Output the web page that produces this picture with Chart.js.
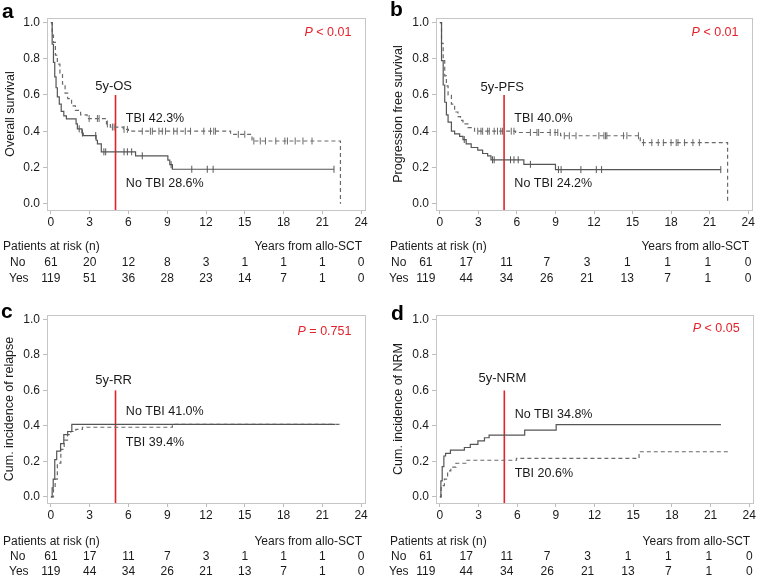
<!DOCTYPE html>
<html>
<head>
<meta charset="utf-8">
<script src="https://cdn.jsdelivr.net/npm/chart.js@4.4.1/dist/chart.umd.min.js"></script>
<style>
  body { margin: 0; background: #fff; width: 757px; height: 579px; position: relative; overflow: hidden; }
  canvas { position: absolute; }
</style>
</head>
<body>
<canvas id="pa" width="378" height="285" style="left:0;top:0"></canvas>
<canvas id="pb" width="379" height="285" style="left:378px;top:0"></canvas>
<canvas id="pc" width="378" height="294" style="left:0;top:285px"></canvas>
<canvas id="pd" width="379" height="294" style="left:378px;top:285px"></canvas>
<script>
// tick labels
const X_TICKS = [0, 3, 6, 9, 12, 15, 18, 21, 24];
const Y_TICKS = [0, 0.2, 0.4, 0.6, 0.8, 1.0];
const RISK_TIMES = [0, 3, 6, 9, 12, 15, 18, 21, 24];

// patients at risk
const OS_RISK_NO = [61, 20, 12, 8, 3, 1, 1, 1, 0];
const OS_RISK_YES = [119, 51, 36, 28, 23, 14, 7, 1, 0];
const PFS_RISK_NO = [61, 17, 11, 7, 3, 1, 1, 1, 0];
const PFS_RISK_YES = [119, 44, 34, 26, 21, 13, 7, 1, 0];
const RR_RISK_NO = [61, 17, 11, 7, 3, 1, 1, 1, 0];
const RR_RISK_YES = [119, 44, 34, 26, 21, 13, 7, 1, 0];
const NRM_RISK_NO = [61, 17, 11, 7, 3, 1, 1, 1, 0];
const NRM_RISK_YES = [119, 44, 34, 26, 21, 13, 7, 1, 0];

// step curves [years, value]
const OS_NO = [[0,1],[0.1,0.88],[0.2,0.78],[0.3,0.7],[0.4,0.64],[0.5,0.59],[0.65,0.55],[0.8,0.51],[1.0,0.485],[1.2,0.468],
  [1.95,0.44],[2.05,0.413],[2.4,0.39],[2.5,0.376],[3.5,0.35],[3.6,0.33],[3.9,0.286],[6.55,0.264],[9.05,0.24],[9.2,0.215],[9.4,0.19],[21.9,0.19]];
const OS_YES = [[0,1],[0.1,0.93],[0.2,0.89],[0.35,0.82],[0.5,0.77],[0.7,0.72],[0.9,0.66],[1.1,0.61],[1.3,0.58],[1.6,0.54],[1.9,0.515],
  [2.3,0.49],[2.8,0.47],[4.3,0.44],[4.6,0.423],[5.6,0.41],[6.0,0.40],[13.9,0.383],[15.56,0.346],[22.4,0.346],[22.4,0]];
const OS_NO_CENS = [2.19, 2.44, 3.47, 4.1, 4.24, 5.66, 5.92, 6.25, 7.07, 9.3, 10.9, 12.1, 12.55, 21.9];
const OS_YES_CENS = [2.96, 3.6, 3.73, 4.37, 4.76, 4.89, 5.66, 5.92, 7.07, 7.7, 7.85, 8.36, 8.62, 8.87, 9.5, 9.77, 10.4, 10.8,
  11.83, 12.35, 12.6, 12.73, 14.5, 15.0, 15.7, 16.2, 16.6, 17.4, 18.1, 18.3, 18.9, 19.5, 20.2];

const PFS_NO = [[0,1],[0.13,0.79],[0.26,0.655],[0.38,0.56],[0.51,0.49],[0.64,0.45],[0.9,0.40],[1.15,0.385],[1.54,0.372],[1.8,0.354],
  [2.05,0.33],[2.44,0.31],[2.95,0.296],[3.33,0.277],[3.72,0.264],[3.98,0.242],[6.54,0.217],[9.0,0.188],[21.87,0.188]];
const PFS_YES = [[0,1],[0.13,0.885],[0.26,0.79],[0.38,0.706],[0.51,0.65],[0.64,0.60],[0.9,0.55],[1.15,0.506],[1.41,0.48],[1.61,0.46],
  [1.8,0.44],[2.18,0.42],[2.7,0.40],[5.9,0.393],[9.4,0.375],[15.6,0.337],[22.4,0.337],[22.4,0]];
const PFS_NO_CENS = [1.9, 4.1, 4.23, 5.5, 5.77, 6.1, 7.05, 9.23, 9.44, 10.98, 12.18, 12.59, 21.87];
const PFS_YES_CENS = [2.95, 3.2, 3.33, 3.72, 3.85, 4.23, 4.49, 4.74, 4.87, 5.56, 5.77, 7.05, 7.56, 7.69, 8.59, 8.97, 9.18, 9.69,
  10.08, 10.6, 12.38, 12.77, 12.9, 13.0, 14.3, 14.56, 15.46, 15.85, 16.5, 17.0, 17.4, 18.0, 18.4, 18.54, 19.05, 19.7, 20.2];

const RR_NO = [[0,0],[0.1,0.05],[0.18,0.10],[0.3,0.21],[0.45,0.257],[0.75,0.30],[1.0,0.35],[1.3,0.368],[1.62,0.408],[22.0,0.408]];
const RR_YES = [[0,0],[0.2,0.05],[0.33,0.10],[0.5,0.19],[0.77,0.267],[1.03,0.32],[1.29,0.35],[1.54,0.368],[1.93,0.38],[2.44,0.392],
  [9.4,0.408],[22.4,0.408]];

const NRM_NO = [[0,0],[0.08,0.09],[0.18,0.17],[0.31,0.23],[0.44,0.245],[0.82,0.263],[1.9,0.278],[2.36,0.296],[2.95,0.315],
  [3.46,0.333],[3.82,0.348],[6.58,0.376],[9.02,0.407],[21.8,0.407]];
const NRM_YES = [[0,0],[0.1,0.063],[0.35,0.10],[0.6,0.146],[0.85,0.167],[1.25,0.189],[2.1,0.206],[5.94,0.217],[15.45,0.254],[22.5,0.254]];

const FONT = '"Liberation Sans", Arial, Helvetica, sans-serif';
const INK = '#1a1a1a';
const RED = '#e3222b';
const SOLID = '#555555';
const DASHED = '#6a6a6a';

const toXY = curve => curve.map(p => ({ x: p[0], y: p[1] }));

// value of a step curve at time t (for placing censor ticks on it)
function stepAt(curve, t) {
  let v = curve[0][1];
  for (const p of curve) { if (p[0] <= t) v = p[1]; }
  return v;
}

const boxPlugin = {
  id: 'box',
  beforeDatasetsDraw(chart) {
    const { ctx, chartArea: a } = chart;
    ctx.save();
    ctx.strokeStyle = '#c6c6c6';
    ctx.lineWidth = 1;
    ctx.strokeRect(Math.round(a.left) + 0.5, Math.round(a.top) + 0.5, Math.round(a.right - a.left), Math.round(a.bottom - a.top));
    ctx.restore();
  }
};

const textPlugin = {
  id: 'texts',
  afterDraw(chart, args, o) {
    const { ctx, chartArea: a } = chart;
    const xs = chart.scales.x, ys = chart.scales.y;
    ctx.save();

    // panel letter
    ctx.fillStyle = '#000';
    ctx.font = 'bold 21px ' + FONT;
    ctx.textAlign = 'left';
    ctx.textBaseline = 'alphabetic';
    ctx.fillText(o.letter, o.letterPos[0], o.letterPos[1]);
    ctx.textBaseline = 'middle';

    // 5y label
    ctx.fillStyle = INK;
    ctx.font = '13px ' + FONT;
    ctx.textAlign = 'center';
    ctx.fillText(o.fiveY, xs.getPixelForValue(4.85), ys.getPixelForValue(o.fiveYy));

    // group labels
    ctx.font = '12.5px ' + FONT;
    ctx.textAlign = 'left';
    for (const l of o.labels) ctx.fillText(l[0], xs.getPixelForValue(5.8), ys.getPixelForValue(l[1]));

    // p value
    ctx.fillStyle = RED;
    ctx.font = '12.5px ' + FONT;
    const rest = o.pRest;
    const wRest = ctx.measureText(rest).width;
    ctx.font = 'italic 12.5px ' + FONT;
    const wP = ctx.measureText('P').width;
    const xr = xs.getPixelForValue(23.25);
    const yp = ys.getPixelForValue(o.pY);
    ctx.fillText('P', xr - wRest - wP, yp);
    ctx.font = '12.5px ' + FONT;
    ctx.fillText(rest, xr - wRest, yp);

    // risk table
    ctx.fillStyle = INK;
    ctx.font = '12px ' + FONT;
    const [yT, yNo, yYes] = o.rowsY;
    ctx.textAlign = 'left';
    ctx.fillText('Patients at risk (n)', o.titleX, yT);
    ctx.fillText('No', o.labelX + o.noNudge, yNo);
    ctx.fillText('Yes', o.labelX, yYes);
    ctx.textAlign = 'right';
    ctx.fillText('Years from allo-SCT', a.right - 3, yT);
    ctx.textAlign = 'center';
    RISK_TIMES.forEach((t, i) => {
      const px = xs.getPixelForValue(t) + o.tableShift * (1 - t / 24);
      ctx.fillText(String(o.no[i]), px, yNo);
      ctx.fillText(String(o.yes[i]), px, yYes);
    });
    ctx.restore();
  }
};

function makePanel(id, p) {
  const datasets = [
    { data: toXY(p.solid), borderColor: SOLID, borderWidth: 1.2, stepped: true, pointRadius: 0 },
    { data: toXY(p.dashed), borderColor: DASHED, borderWidth: 1.2, borderDash: [4, 3], stepped: true, pointRadius: 0 },
    { data: [{ x: 5, y: -0.035 }, { x: 5, y: 0.6 }], borderColor: RED, borderWidth: 1.6, pointRadius: 0 }
  ];
  if (p.solidCens) {
    datasets.push({ data: p.solidCens.map(t => ({ x: t, y: stepAt(p.solid, t) })), showLine: false,
      pointStyle: 'line', rotation: 90, pointRadius: 3.5, pointBorderColor: SOLID, pointBorderWidth: 1 });
    datasets.push({ data: p.dashedCens.map(t => ({ x: t, y: stepAt(p.dashed, t) })), showLine: false,
      pointStyle: 'line', rotation: 90, pointRadius: 3.5, pointBorderColor: DASHED, pointBorderWidth: 1 });
  }
  new Chart(document.getElementById(id), {
    type: 'line',
    data: { datasets },
    options: {
      responsive: false,
      animation: false,
      devicePixelRatio: 1,
      layout: { padding: p.padding },
      plugins: {
        legend: { display: false },
        tooltip: { enabled: false },
        texts: p.texts
      },
      scales: {
        x: {
          type: 'linear', min: -0.3, max: 24.3,
          afterBuildTicks: s => { s.ticks = X_TICKS.map(v => ({ value: v })); },
          afterFit: s => { s.height = 20; },
          ticks: { font: { family: FONT, size: 12 }, color: INK, padding: 1, maxRotation: 0 },
          grid: { drawOnChartArea: false, tickLength: 4, color: '#bdbdbd' },
          border: { display: false }
        },
        y: {
          min: -0.035, max: 1.025,
          afterBuildTicks: s => { s.ticks = Y_TICKS.map(v => ({ value: v })); },
          afterFit: s => { s.width = p.yWidth; },
          ticks: { font: { family: FONT, size: 12 }, color: INK, padding: 3, callback: v => v.toFixed(1) },
          grid: { drawOnChartArea: false, tickLength: 4, color: '#bdbdbd' },
          border: { display: false },
          title: { display: true, text: p.yTitle, color: INK, font: { family: FONT, size: 12.5 }, padding: { top: p.titlePad, bottom: 0 } }
        }
      }
    },
    plugins: [boxPlugin, textPlugin]
  });
}

makePanel('pa', {
  solid: OS_NO, dashed: OS_YES, solidCens: OS_NO_CENS, dashedCens: OS_YES_CENS,
  padding: { left: 0, top: 18, right: 13, bottom: 55 }, yWidth: 47, titlePad: 3, yTitle: 'Overall survival',
  texts: { letter: 'a', letterPos: [2, 18], fiveY: '5y-OS', fiveYy: 0.648, labels: [['TBI 42.3%', 0.47], ['No TBI 28.6%', 0.112]],
    pRest: ' < 0.01', pY: 0.944, rowsY: [247, 263, 279], titleX: 3, labelX: 9, noNudge: 1, tableShift: 0,
    no: OS_RISK_NO, yes: OS_RISK_YES }
});
makePanel('pb', {
  solid: PFS_NO, dashed: PFS_YES, solidCens: PFS_NO_CENS, dashedCens: PFS_YES_CENS,
  padding: { left: 0, top: 18, right: 3, bottom: 55 }, yWidth: 58, titlePad: 13, yTitle: 'Progression free survival',
  texts: { letter: 'b', letterPos: [12, 16], fiveY: '5y-PFS', fiveYy: 0.642, labels: [['TBI 40.0%', 0.47], ['No TBI 24.2%', 0.112]],
    pRest: ' < 0.01', pY: 0.944, rowsY: [247, 263, 279], titleX: 12, labelX: 11, noNudge: 2, tableShift: -14,
    no: PFS_RISK_NO, yes: PFS_RISK_YES }
});
makePanel('pc', {
  solid: RR_NO, dashed: RR_YES,
  padding: { left: 0, top: 30, right: 13, bottom: 56 }, yWidth: 47, titlePad: 2, yTitle: 'Cum. incidence of relapse',
  texts: { letter: 'c', letterPos: [1, 33], fiveY: '5y-RR', fiveYy: 0.655, labels: [['No TBI 41.0%', 0.478], ['TBI 39.4%', 0.305]],
    pRest: ' = 0.751', pY: 0.933, rowsY: [257, 272, 287], titleX: 3, labelX: 9, noNudge: 1, tableShift: 0,
    no: RR_RISK_NO, yes: RR_RISK_YES }
});
makePanel('pd', {
  solid: NRM_NO, dashed: NRM_YES,
  padding: { left: 0, top: 30, right: 3, bottom: 56 }, yWidth: 58, titlePad: 13, yTitle: 'Cum. incidence of NRM',
  texts: { letter: 'd', letterPos: [13, 35], fiveY: '5y-NRM', fiveYy: 0.667, labels: [['No TBI 34.8%', 0.461], ['TBI 20.6%', 0.133]],
    pRest: ' < 0.05', pY: 0.946, rowsY: [257, 272, 287], titleX: 12, labelX: 11, noNudge: 2, tableShift: -14,
    no: NRM_RISK_NO, yes: NRM_RISK_YES }
});
</script>
</body>
</html>
